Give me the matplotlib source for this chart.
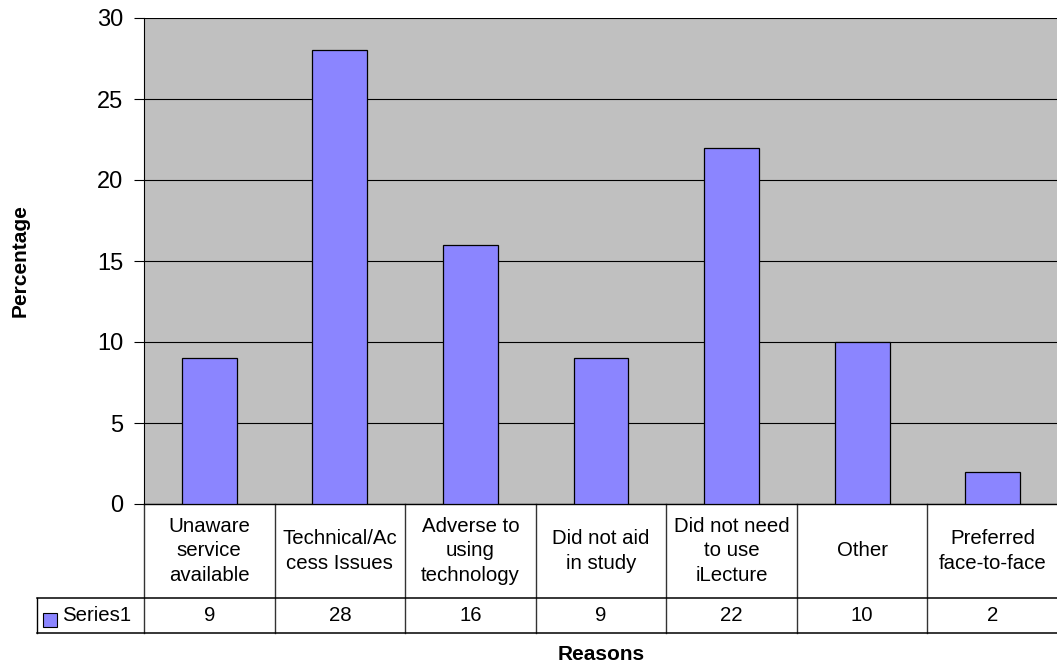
import matplotlib
matplotlib.use("Agg")
import matplotlib.pyplot as plt
from matplotlib.patches import Rectangle

plt.rcParams['font.family'] = ['Liberation Sans', 'DejaVu Sans']

reasons = ["Unaware\nservice\navailable", "Technical/Ac\ncess Issues",
           "Adverse to\nusing\ntechnology", "Did not aid\nin study",
           "Did not need\nto use\niLecture", "Other", "Preferred\nface-to-face"]
series1 = [9, 28, 16, 9, 22, 10, 2]
series_name = "Series1"
yticks = [0, 5, 10, 15, 20, 25, 30]

W, H = 1057, 668
fig = plt.figure(figsize=(W / 100, H / 100), dpi=100)
left, right, top, bottom = 144, 1058, 18, 504
ax = fig.add_axes([left / W, (H - bottom) / H, (right - left) / W, (bottom - top) / H])

bar_color = "#8B85FF"
ax.set_facecolor("#C0C0C0")
x = range(len(series1))
ax.bar(x, series1, width=0.42, color=bar_color, edgecolor="black", linewidth=0.9, zorder=3)
ax.set_xlim(-0.5, len(series1) - 0.5)
ax.set_ylim(0, 30)
ax.set_yticks(yticks)
ax.yaxis.grid(True, color="black", linewidth=0.8, zorder=1)
ax.tick_params(axis="y", labelsize=17, length=7, width=0.8, direction="out", pad=8)
ax.set_xticks([])
for s in ["top", "right"]:
    ax.spines[s].set_visible(False)
ax.spines["left"].set_linewidth(0.8)
ax.spines["bottom"].set_linewidth(1.0)

# data table under the axes
pw = right - left
ph = bottom - top
def ay(py):
    return (bottom - py) / ph
def axx(px):
    return (px - left) / pw

row1, row2, key_left = 598, 633, 37
n = len(series1)
tr = ax.transAxes
for i in range(n + 1):
    ax.plot([i / n, i / n], [0, ay(row2)], color="#333333", lw=1.0, transform=tr, clip_on=False)
for py in (row1, row2):
    ax.plot([axx(key_left), 1], [ay(py), ay(py)], color="black", lw=1.1, transform=tr, clip_on=False)
ax.plot([axx(key_left)] * 2, [ay(row1), ay(row2)], color="black", lw=1.0, transform=tr, clip_on=False)

for i, (lab, v) in enumerate(zip(reasons, series1)):
    cx = (i + 0.5) / n
    ax.text(cx, (ay(bottom) + ay(row1)) / 2, lab, transform=tr, ha="center", va="center",
            fontsize=14.7, linespacing=1.35)
    ax.text(cx, (ay(row1) + ay(row2)) / 2, str(v), transform=tr, ha="center", va="center",
            fontsize=14.7)

# legend key in the table
ax.add_patch(Rectangle((axx(43), ay(627)), 14 / pw, 14 / ph, transform=tr, clip_on=False,
                       facecolor=bar_color, edgecolor="black", lw=0.8))
ax.text(axx(62), (ay(row1) + ay(row2)) / 2, series_name, transform=tr, ha="left", va="center",
        fontsize=14.7)

fig.text(601 / W, 1 - 655 / H, "Reasons", ha="center", va="center", fontsize=15, fontweight="bold")
fig.text(20 / W, 1 - 261 / H, "Percentage", ha="center", va="center", rotation=90,
         fontsize=15, fontweight="bold")

fig.savefig("out.png", dpi=100)
